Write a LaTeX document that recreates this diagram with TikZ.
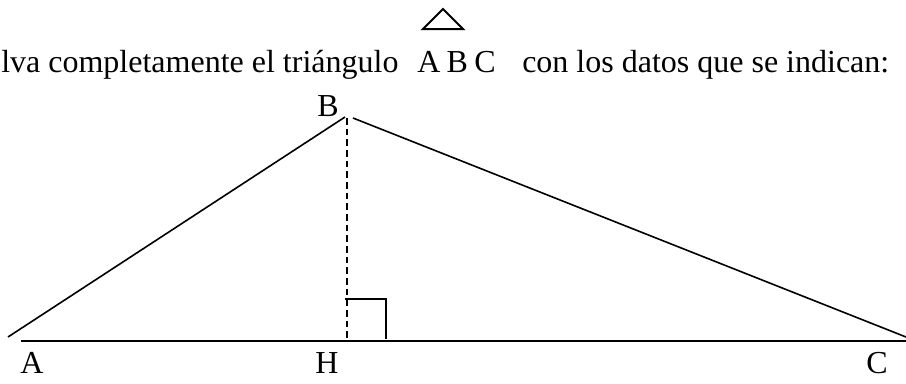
\documentclass[tikz,border=0pt]{standalone}
\usepackage{fontspec}
\setmainfont{Liberation Serif}
\begin{document}
\begin{tikzpicture}[x=0.75pt,y=-0.75pt,
  txt/.style={inner sep=0pt,anchor=base,font=\fontsize{24}{28}\selectfont},
  side/.style={line width=1.2pt},
  baseln/.style={line width=1.6pt},
  hgt/.style={line width=1.1pt,dash pattern=on 5pt off 3pt},
  sq/.style={line width=1.2pt}]
\useasboundingbox[fill=white] (0,0) rectangle (906,383);
% title
\node[txt,anchor=base west] (t1) at (1,72) {lva completamente el triángulo};
\node[txt,anchor=base west] (t2) at (417,72) {A\hspace{0.2em}B\hspace{0.2em}C};
\node[txt,anchor=base west] (t3) at (522,72) {con los datos que se indican:};
\coordinate (s1) at (423,29);
\coordinate (s2) at (443,9);
\coordinate (s3) at (463,29);
\draw[line width=1.5pt,line join=miter] (s1) -- (s2) -- (s3) -- cycle;
% triangle
\coordinate (A) at (8,337);
\coordinate (B1) at (345,117);
\coordinate (B2) at (353,118);
\coordinate (C) at (906,337);
\coordinate (L) at (21,341);
\coordinate (R) at (906,341);
\coordinate (Ht) at (347,118);
\coordinate (Hb) at (347,338);
\coordinate (q1) at (345,299);
\coordinate (q2) at (386,299);
\coordinate (q3) at (386,339);
\draw[side] (A) -- (B1);
\draw[side] (B2) -- (C);
\draw[baseln] (L) -- (R);
\draw[hgt] (Ht) -- (Hb);
\draw[sq] (q1) -- (q2) -- (q3);
% labels
\node[txt] (lA) at (32,373) {A};
\node[txt] (lB) at (328,116) {B};
\node[txt] (lH) at (327,373) {H};
\node[txt] (lC) at (877,373) {C};
\end{tikzpicture}
\end{document}
